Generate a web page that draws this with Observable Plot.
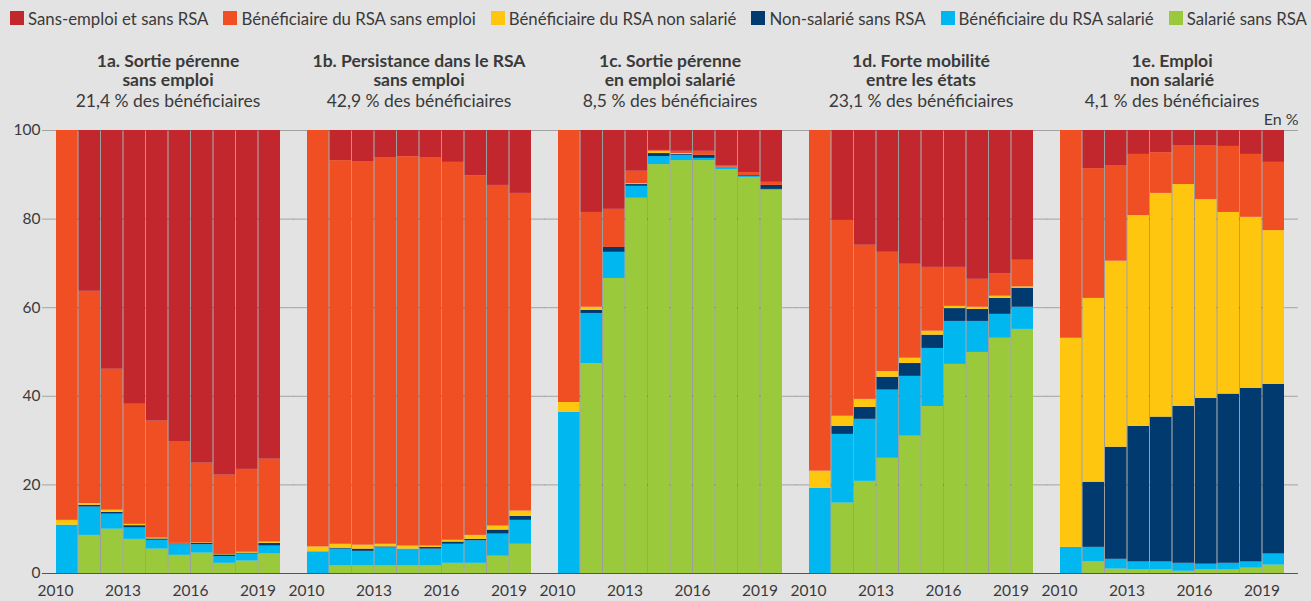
<!DOCTYPE html>
<html>
<head>
<meta charset="utf-8">
<script src="https://cdn.jsdelivr.net/npm/d3@7"></script>
<script src="https://cdn.jsdelivr.net/npm/@observablehq/plot@0.6"></script>
<style>
  html, body { margin: 0; padding: 0; background: #e3e3e3; }
  body { width: 1311px; height: 601px; overflow: hidden; font-family: Lato, "Open Sans", sans-serif; color: #3a3a3a; }
  #legend { height: 36px; display: flex; align-items: center; padding-left: 10px; gap: 15px; font-size: 16.8px; white-space: nowrap; }
  #legend .item { display: flex; align-items: center; }
  #legend .sw { width: 14px; height: 14px; margin-right: 4px; display: inline-block; }
</style>
</head>
<body>
<div id="legend"></div>
<div id="chart"></div>
<script>
const years = [2010, 2011, 2012, 2013, 2014, 2015, 2016, 2017, 2018, 2019];
const yearTicks = [2010, 2013, 2016, 2019];
const yTicks = [0, 20, 40, 60, 80, 100];

// stacking order, bottom to top
const stackOrder = [
  "Salarié sans RSA",
  "Bénéficiaire du RSA salarié",
  "Non-salarié sans RSA",
  "Bénéficiaire du RSA non salarié",
  "Bénéficiaire du RSA sans emploi",
  "Sans-emploi et sans RSA"
];
const legendOrder = [
  "Sans-emploi et sans RSA",
  "Bénéficiaire du RSA sans emploi",
  "Bénéficiaire du RSA non salarié",
  "Non-salarié sans RSA",
  "Bénéficiaire du RSA salarié",
  "Salarié sans RSA"
];
const legendColors = ["#c1272d", "#f04e23", "#fec60f", "#013a6f", "#00b8ef", "#9aca3c"];

const panelIds = ["1a", "1b", "1c", "1d", "1e"];
const titleLine1 = ["1a. Sortie pérenne", "1b. Persistance dans le RSA", "1c. Sortie pérenne", "1d. Forte mobilité", "1e. Emploi"];
const titleLine2 = ["sans emploi", "sans emploi", "en emploi salarié", "entre les états", "non salarié"];
const shares = ["21,4 % des bénéficiaires", "42,9 % des bénéficiaires", "8,5 % des bénéficiaires", "23,1 % des bénéficiaires", "4,1 % des bénéficiaires"];

// each panel: rows in stackOrder, columns = years (en %)
const panel1a = [
  [0, 8.6, 10.0, 7.7, 5.5, 4.1, 4.6, 2.3, 2.8, 4.4],
  [10.9, 6.4, 3.4, 2.6, 2.0, 2.4, 1.9, 1.5, 1.6, 1.8],
  [0, 0.4, 0.4, 0.5, 0.3, 0.2, 0.3, 0.4, 0.2, 0.6],
  [1.1, 0.4, 0.5, 0.3, 0.2, 0.1, 0.1, 0.1, 0.2, 0.3],
  [88.0, 47.9, 31.8, 27.1, 26.4, 23.0, 18.0, 17.9, 18.7, 18.7],
  [0, 36.3, 53.9, 61.8, 65.6, 70.2, 75.1, 77.8, 76.5, 74.2]
];
const panel1b = [
  [0, 1.7, 1.7, 1.7, 1.7, 1.7, 2.3, 2.3, 3.9, 6.6],
  [4.9, 3.8, 3.3, 4.1, 3.8, 3.8, 4.3, 5.1, 5.0, 5.4],
  [0, 0.2, 0.5, 0.2, 0, 0.4, 0.5, 0.3, 0.9, 0.9],
  [1.1, 0.9, 0.9, 0.6, 0.7, 0.3, 0.4, 0.9, 0.9, 1.2],
  [94.0, 86.6, 86.6, 87.3, 87.9, 87.7, 85.3, 81.2, 76.9, 71.7],
  [0, 6.8, 7.0, 6.1, 5.9, 6.1, 7.2, 10.2, 12.4, 14.2]
];
const panel1c = [
  [0, 47.4, 66.6, 84.7, 92.3, 93.2, 93.2, 91.2, 89.4, 86.5],
  [36.4, 11.3, 5.9, 2.7, 1.8, 1.2, 0.5, 0.5, 0.2, 0.2],
  [0, 0.7, 1.1, 0.4, 0.7, 0.2, 0.7, 0, 0.2, 0.9],
  [2.2, 0.7, 0, 0.2, 0.5, 0.2, 0, 0, 0, 0],
  [61.4, 21.4, 8.6, 2.8, 0.2, 0.5, 0.9, 0.4, 0.7, 0.7],
  [0, 18.5, 17.8, 9.2, 4.5, 4.7, 4.7, 7.9, 9.5, 11.7]
];
const panel1d = [
  [0, 15.9, 20.8, 26.0, 31.0, 37.7, 47.2, 49.9, 53.1, 55.1],
  [19.2, 15.5, 14.0, 15.4, 13.5, 13.1, 9.7, 7.0, 5.4, 5.0],
  [0, 1.8, 2.7, 2.9, 2.9, 3.0, 2.9, 2.7, 3.6, 4.3],
  [3.9, 2.3, 1.8, 1.3, 1.2, 0.9, 0.5, 0.5, 0.5, 0.3],
  [76.9, 44.2, 34.8, 26.9, 21.2, 14.4, 8.8, 6.3, 5.1, 6.0],
  [0, 20.3, 25.9, 27.5, 30.2, 30.9, 30.9, 33.6, 32.3, 29.3]
];
const panel1e = [
  [0, 2.6, 1.0, 0.8, 0.8, 0.5, 0.8, 0.8, 1.2, 1.9],
  [5.9, 3.3, 2.2, 1.8, 1.8, 1.8, 1.3, 1.5, 1.4, 2.5],
  [0, 14.7, 25.3, 30.6, 32.7, 35.4, 37.4, 38.2, 39.2, 38.3],
  [47.2, 41.5, 42.0, 47.6, 50.5, 50.1, 44.9, 41.0, 38.6, 34.7],
  [46.9, 29.3, 21.6, 13.8, 9.2, 8.8, 12.2, 14.9, 14.2, 15.4],
  [0, 8.6, 7.9, 5.4, 5.0, 3.4, 3.4, 3.6, 5.4, 7.2]
];

const panels = [panel1a, panel1b, panel1c, panel1d, panel1e];
const table = [];
panels.forEach((p, pi) => p.forEach((row, ci) => row.forEach((v, yi) => {
  table.push({panel: panelIds[pi], cat: stackOrder[ci], year: years[yi], value: v});
})));
const titles = panelIds.map((id, i) => ({id, t1: titleLine1[i], t2: titleLine2[i], share: shares[i]}));
const boundaries = years.slice(1);

// legend
const legend = document.getElementById("legend");
legendOrder.forEach((c, i) => {
  const it = document.createElement("span");
  it.className = "item";
  const sw = document.createElement("span");
  sw.className = "sw";
  sw.style.background = legendColors[i];
  const tx = document.createElement("span");
  tx.textContent = c;
  it.appendChild(sw); it.appendChild(tx);
  legend.appendChild(it);
});

const chart = Plot.plot({
  width: 1311,
  height: 565,
  marginLeft: 54,
  marginRight: 27,
  marginTop: 94,
  marginBottom: 28,
  style: {background: "transparent", fontFamily: "Lato, 'Open Sans', sans-serif", fontSize: "15.5px", color: "#3a3a3a"},
  fx: {domain: panelIds, paddingInner: 0.1045, paddingOuter: 0, axis: null},
  x: {domain: [2010, 2020], ticks: yearTicks, tickFormat: d => String(d), tickSize: 0, tickPadding: 11, label: null},
  y: {domain: [0, 100], ticks: yTicks, tickSize: 0, tickPadding: 15, label: null},
  color: {domain: legendOrder, range: legendColors},
  marks: [
    Plot.ruleY(yTicks.filter(v => v > 0), {stroke: "#a3a3a3", strokeWidth: 1, insetLeft: -13, insetRight: -14}),
    Plot.rectY(table, {x: "year", interval: 1, y: "value", fx: "panel", fill: "cat", order: stackOrder}),
    Plot.ruleX(boundaries, {y1: 0, y2: 100, stroke: "#000", strokeOpacity: 0.3, strokeWidth: 1}),
    Plot.ruleY([0], {stroke: "#555", strokeWidth: 1.2, insetLeft: -13, insetRight: -14}),
    Plot.text(titles, {fx: "id", text: "t1", frameAnchor: "top", lineAnchor: "middle", dy: -69, fontWeight: 700, fontSize: 17.5}),
    Plot.text(titles, {fx: "id", text: "t2", frameAnchor: "top", lineAnchor: "middle", dy: -50, fontWeight: 700, fontSize: 17.5}),
    Plot.text(titles, {fx: "id", text: "share", frameAnchor: "top", lineAnchor: "middle", dy: -29, fontSize: 17.5}),
    Plot.text(titles.filter(d => d.id === "1e"), {fx: "id", text: () => "En %", frameAnchor: "top-right", lineAnchor: "middle", textAnchor: "end", dx: 14, dy: -11, fontSize: 16})
  ]
});
document.getElementById("chart").appendChild(chart);
</script>
</body>
</html>
